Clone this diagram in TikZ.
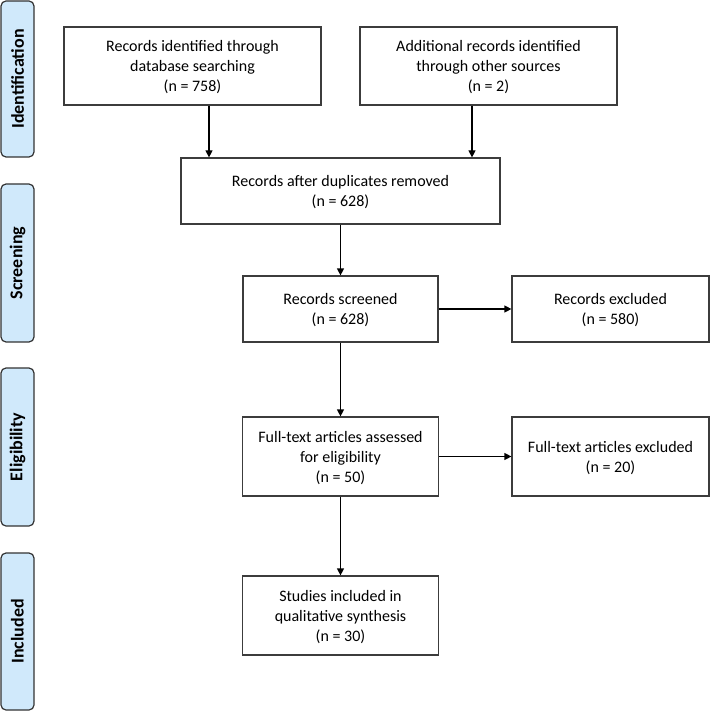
\documentclass[tikz,border=0pt]{standalone}
\usepackage{fontspec}
\setmainfont{Carlito}
\usepackage{xcolor}
\usepackage{tikz}
\usetikzlibrary{shapes,arrows,positioning,calc,arrows.meta}
\definecolor{stagefill}{RGB}{208,233,251}
\definecolor{boxline}{RGB}{60,60,60}

\begin{document}
\begin{tikzpicture}[x=1pt, y=-1pt,
    every node/.style={inner sep=0pt},
    flowbox/.style={draw=boxline, line width=1.2pt, align=center, text depth=0pt,
        font=\fontsize{16}{20}\selectfont, minimum height=66pt},
    stage/.style={draw=black!80, line width=1.2pt, fill=stagefill, rounded corners=5pt,
        minimum height=33pt, font=\bfseries\fontsize{18}{18}\selectfont, rotate=90},
    arr/.style={-{Triangle[length=7pt,width=7pt]}, line width=1.2pt}]
    \useasboundingbox (0,0) rectangle (710,711);

    % stages
    \node [stage, minimum width=156pt] (ident) at (17.5,79) {Identification};
    \node [stage, minimum width=158pt] (screen) at (17.5,263) {Screening};
    \node [stage, minimum width=158pt] (elig) at (17.5,447) {Eligibility};
    \node [stage, minimum width=157pt] (incl) at (17.5,631.5) {Included};

    % boxes
    \node [flowbox, minimum width=257pt, minimum height=78pt] (database) at (192.5,66)
        {Records identified through\\database searching\\(n = 758)};
    \node [flowbox, minimum width=257pt, minimum height=78pt] (other) at (488.5,66)
        {Additional records identified\\through other sources\\(n = 2)};
    \node [flowbox, minimum width=319pt] (duplicates) at (340.5,191)
        {Records after duplicates removed\\(n = 628)};
    \node [flowbox, minimum width=195pt] (screened) at (340.5,309)
        {Records screened\\(n = 628)};
    \node [flowbox, minimum width=197pt] (excluded) at (610.5,309)
        {Records excluded\\(n = 580)};
    \node [flowbox, minimum width=196pt, minimum height=79pt] (fulltext) at (340.5,456.5)
        {Full-text articles assessed\\for eligibility\\(n = 50)};
    \node [flowbox, minimum width=197pt, minimum height=79pt] (ftexcluded) at (610.5,456.5)
        {Full-text articles excluded\\(n = 20)};
    \node [flowbox, minimum width=196pt, minimum height=79pt] (included) at (340.5,615.5)
        {Studies included in\\qualitative synthesis\\(n = 30)};

    % arrows
    \draw [arr] ([xshift=16.5pt]database.south) -- ([xshift=16.5pt]database.south |- duplicates.north);
    \draw [arr] ([xshift=-16.5pt]other.south) -- ([xshift=-16.5pt]other.south |- duplicates.north);
    \draw [arr] (duplicates) -- (screened);
    \draw [arr] (screened) -- (excluded);
    \draw [arr] (screened) -- (fulltext);
    \draw [arr] (fulltext) -- (ftexcluded);
    \draw [arr] (fulltext) -- (included);
\end{tikzpicture}
\end{document}
